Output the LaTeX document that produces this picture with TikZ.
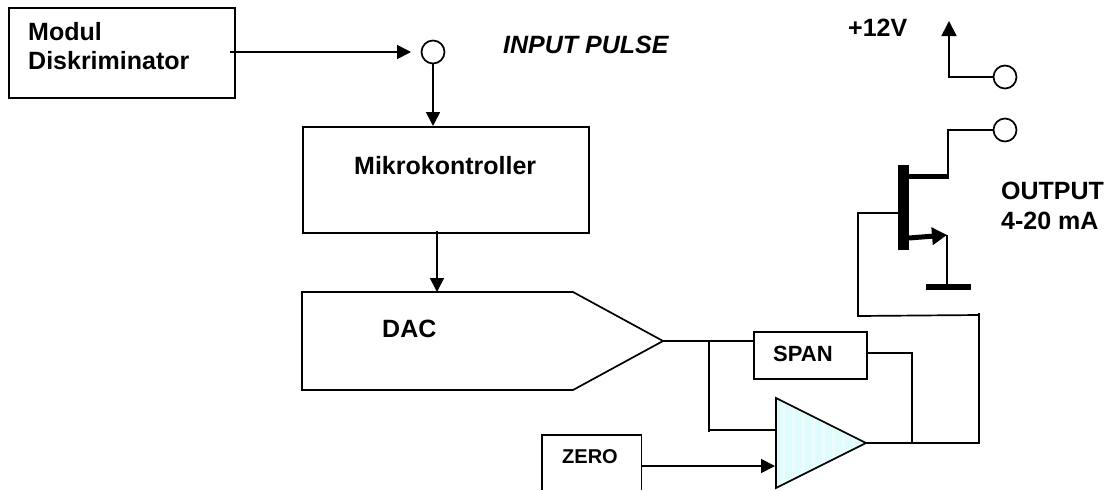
\documentclass[tikz,border=0pt]{standalone}
\usepackage{fontspec}
\setmainfont{Liberation Sans}
\usetikzlibrary{arrows.meta}
\definecolor{ampcyan}{HTML}{DFFBFC}
\tikzset{
  wire/.style={line width=1.7pt,line join=miter,black},
  arrowed/.style={wire,-{Triangle[length=14pt,width=14pt]}},
  block/.style={draw=black,line width=1.7pt,fill=white,inner sep=0pt,anchor=north west},
  terminal/.style={circle,draw=black,line width=1.7pt,fill=white,minimum size=23pt,inner sep=0pt},
  txt/.style={font=\bfseries\fontsize{25}{28}\selectfont,anchor=base west,inner sep=0pt},
  spantxt/.style={font=\bfseries\fontsize{22}{24}\selectfont,anchor=base west,inner sep=0pt},
  zerotxt/.style={font=\bfseries\fontsize{20}{22}\selectfont,anchor=base west,inner sep=0pt},
}
\begin{document}
\begin{tikzpicture}[x=1pt,y=-1pt]
\useasboundingbox (0,0) rectangle (1110,490);
% blocks
\node[block,minimum width=226pt,minimum height=90pt] (modul) at (8,7) {};
\node[block,minimum width=286pt,minimum height=106pt] (mikro) at (302,126) {};
\node[block,minimum width=113pt,minimum height=47pt] (span) at (753,331) {};
\node[inner sep=0pt,anchor=north west,minimum width=99pt,minimum height=55pt] (zero) at (542,435) {};
\draw[wire] (zero.south west) -- (zero.north west) -- (zero.north east) -- (zero.south east);
% terminals
\node[terminal] (in) at (433,52) {};
\node[terminal] (vcc) at (1005,77) {};
\node[terminal] (out) at (1005,130) {};
% DAC
\coordinate (dactl) at (302,292);
\coordinate (dactr) at (573,292);
\coordinate (dactip) at (663,341);
\coordinate (dacbr) at (573,390);
\coordinate (dacbl) at (302,390);
\draw[wire] (dactl) -- (dactr) -- (dactip) -- (dacbr) -- (dacbl) -- cycle;
% amplifier
\coordinate (amptop) at (776,398);
\coordinate (amptip) at (866,443);
\coordinate (ampbot) at (776,488);
\fill[ampcyan] (amptop) -- (amptip) -- (ampbot) -- cycle;
\begin{scope}
\clip (amptop) -- (amptip) -- (ampbot) -- cycle;
\foreach \sx in {783,793,...,860} \draw[white,line width=3pt,opacity=.35] (\sx,395) -- (\sx,492);
\end{scope}
\draw[wire] (amptop) -- (amptip) -- (ampbot) -- cycle;
% connectors
\coordinate (mfrom) at (230,52);
\coordinate (inarrow) at (411,52);
\draw[arrowed] (mfrom) -- (inarrow);
\draw[arrowed] (in.south) -- (in.south |- mikro.north);
\coordinate (mout) at (437,231);
\coordinate (dacin) at (437,292);
\draw[arrowed] (mout) -- (dacin);
\coordinate (spanin) at (755,341);
\coordinate (junc) at (709,341);
\coordinate (ampin) at (776,430);
\draw[wire] (dactip) -- (spanin);
\draw[wire] (junc) -- (709,432);
\draw[wire] (709,430) -- (ampin);
\coordinate (spanout) at (866,353);
\draw[wire] (spanout) -- (912,353) -- (912,443);
\draw[wire] (amptip) -- (979,443) -- (979,313);
\coordinate (zout) at (641,466);
\coordinate (zin) at (775,466);
\draw[arrowed] (zout) -- (zin);
% feedback to gate
\coordinate (gate) at (899,213);
\draw[wire] (979,315) -- (858,316) -- (858,213) -- (gate);
% JFET
\fill[black] (898,165) rectangle (909,250);
\coordinate (drain) at (909,176);
\coordinate (srctip) at (947,235);
\draw[line width=5pt] (drain) -- (949,176);
\draw[wire] (948,178) -- (948,130) -- (out.west);
\draw[line width=5pt,-{Triangle[length=15pt,width=17pt]}] (909,238) -- (srctip);
\coordinate (gnd) at (947,287);
\draw[wire] (srctip) -- (gnd);
\draw[line width=6pt] (926,287) -- (971,287);
% supply
\coordinate (vtop) at (949,21);
\draw[wire,-{Triangle[length=15pt,width=15pt]}] (vcc.west) -- (949,77) -- (vtop);
% labels
\node[txt] (t1) at (28,40) {Modul};
\node[txt] (t2) at (28,69) {Diskriminator};
\node[txt,font=\bfseries\itshape\fontsize{25}{28}\selectfont] (t3) at (503,53) {INPUT PULSE};
\node[txt] (t4) at (354,174) {Mikrokontroller};
\node[txt] (t5) at (382,337) {DAC};
\node[spantxt] (t6) at (773,361) {SPAN};
\node[zerotxt] (t7) at (562,463) {ZERO};
\node[txt] (t8) at (848,36) {+12V};
\node[txt] (t9) at (1001,199) {OUTPUT};
\node[txt] (t10) at (1001,229) {4-20 mA};
\end{tikzpicture}
\end{document}
